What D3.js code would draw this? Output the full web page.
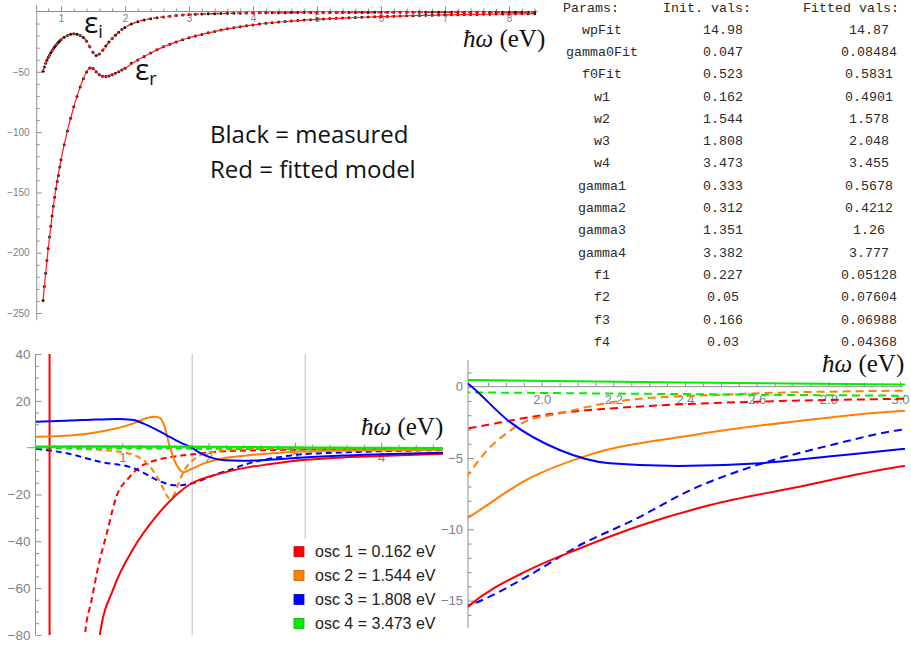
<!DOCTYPE html>
<html>
<head>
<meta charset="utf-8">
<script src="https://cdn.jsdelivr.net/npm/d3@7"></script>
<style>
  body { margin: 0; background: #fff; }
  svg { display: block; }
</style>
</head>
<body>
<svg id="fig" width="911" height="645"></svg>
<script>
// ---------- measured dielectric function (photon energy in eV) ----------
const measEnergy = [
  0.72,0.74,0.76,0.78,0.80,0.82,0.84,0.86,0.88,0.90,0.92,0.94,0.96,0.98,1.00,
  1.05,1.10,1.15,1.20,1.25,1.30,1.35,1.40,1.45,1.50,1.55,1.60,1.65,1.70,1.75,1.80,1.85,1.90,1.95,2.00,
  2.1,2.2,2.3,2.4,2.5,2.6,2.7,2.8,2.9,3.0,3.1,3.2,3.3,3.4,3.5,3.6,3.7,3.8,3.9,4.0,
  4.1,4.2,4.3,4.4,4.5,4.6,4.7,4.8,4.9,5.0,5.1,5.2,5.3,5.4,5.5,5.6,5.7,5.8,5.9,6.0,
  6.1,6.2,6.3,6.4,6.5,6.6,6.7,6.8,6.9,7.0,7.1,7.2,7.3,7.4,7.5,7.6,7.7,7.8,7.9,8.0,8.1,8.2,8.3,8.4
];
const epsIMeasured = [
  -49.5,-46.0,-43.0,-40.5,-38.2,-36.2,-34.3,-32.5,-30.9,-29.4,-28.0,-26.7,-25.5,-24.4,-23.4,
  -21.3,-19.8,-18.9,-18.5,-18.8,-19.8,-21.6,-24.6,-29.2,-33.8,-36.4,-35.3,-32.2,-28.6,-25.2,-22.3,-19.6,-17.2,-15.0,-13.2,
  -10.4,-8.4,-7.1,-6.0,-5.2,-4.5,-3.9,-3.4,-2.9,-2.5,-2.3,-2.1,-1.9,-1.8,-1.7,-1.55,-1.45,-1.35,-1.25,-1.15,
  -1.1,-1.05,-1.0,-0.98,-0.95,-0.92,-0.9,-0.88,-0.86,-0.84,-0.82,-0.8,-0.78,-0.77,-0.76,-0.75,-0.74,-0.73,-0.72,-0.71,
  -0.7,-0.69,-0.68,-0.67,-0.66,-0.65,-0.64,-0.63,-0.62,-0.61,-0.6,-0.6,-0.59,-0.59,-0.58,-0.58,-0.57,-0.57,-0.56,-0.56,-0.55,-0.55,-0.54,-0.54
];
const epsRMeasured = [
  -239.6,-228.0,-217.0,-206.5,-196.5,-187.0,-178.0,-169.5,-161.5,-154.0,-147.0,-141.0,-136.0,-129.0,-123.0,
  -110.5,-99.0,-88.5,-79.0,-70.5,-62.5,-55.8,-50.2,-46.8,-47.2,-50.0,-52.4,-53.6,-53.9,-53.4,-52.4,-51.2,-49.9,-48.5,-47.1,
  -43.0,-40.2,-37.3,-34.4,-31.7,-29.3,-27.1,-25.2,-23.4,-21.8,-20.3,-19.0,-17.7,-16.5,-15.4,-14.4,-13.5,-12.6,-11.8,-11.1,
  -10.4,-9.8,-9.3,-8.8,-8.3,-7.9,-7.5,-7.1,-6.8,-6.5,-6.2,-5.9,-5.7,-5.4,-5.2,-5.0,-4.8,-4.6,-4.4,-4.2,
  -4.05,-3.9,-3.75,-3.6,-3.45,-3.3,-3.2,-3.1,-2.95,-2.85,-2.75,-2.65,-2.55,-2.45,-2.4,-2.3,-2.25,-2.15,-2.1,-2.0,-1.95,-1.9,-1.85,-1.8
];

// ---------- fitted model ----------
const fitEnergy = [0.72,0.75,0.8,0.85,0.9,0.95,1.0,1.1,1.2,1.3,1.4,1.45,1.5,1.55,1.6,1.65,1.7,1.8,1.9,2.0,
  2.2,2.4,2.6,2.8,3.0,3.3,3.6,4.0,4.5,5.0,5.5,6.0,6.5,7.0,7.5,8.0,8.4];
const epsIFitted = [-49.3,-44.4,-38.2,-33.4,-29.4,-26.1,-23.4,-19.8,-18.5,-19.8,-24.6,-29.2,-33.8,-36.4,-35.3,-32.2,-28.6,-22.3,-17.2,-13.2,
  -8.4,-6.0,-4.5,-3.4,-2.5,-1.9,-1.55,-1.15,-0.95,-0.84,-0.76,-0.71,-0.66,-0.61,-0.58,-0.56,-0.54];
const epsRFitted = [-239.0,-222.5,-196.5,-173.7,-154.0,-137.5,-123.0,-99.0,-79.0,-62.5,-50.2,-46.8,-47.2,-50.0,-52.4,-53.6,-53.9,-52.4,-49.9,-47.1,
  -40.2,-34.4,-29.3,-25.2,-21.8,-17.7,-14.4,-11.1,-8.3,-6.5,-5.2,-4.2,-3.45,-2.85,-2.4,-2.0,-1.8];

// ---------- fit parameter table ----------
const paramNames = ["wpFit","gamma0Fit","f0Fit","w1","w2","w3","w4","gamma1","gamma2","gamma3","gamma4","f1","f2","f3","f4"];
const initVals   = ["14.98","0.047","0.523","0.162","1.544","1.808","3.473","0.333","0.312","1.351","3.382","0.227","0.05","0.166","0.03"];
const fittedVals = ["14.87","0.08484","0.5831","0.4901","1.578","2.048","3.455","0.5678","0.4212","1.26","3.777","0.05128","0.07604","0.06988","0.04368"];
const tableHeaders = ["Params:", "Init. vals:", "Fitted vals:"];

// ---------- individual oscillator contributions (Re solid, Im dashed) ----------
const oscNames = ["osc 1", "osc 2", "osc 3", "osc 4"];
const oscEnergies = ["0.162", "1.544", "1.808", "3.473"];

const osc1ReE = [0.0, 0.15, 0.156, 0.158, 0.4, 0.74, 0.9, 1.13, 1.39, 1.66, 1.8, 1.96, 2.1, 2.28, 2.47, 2.7, 3.0, 3.5, 4.0, 4.72];
const osc1ReV = [50, 400, 3000, -3000, -300, -80, -60, -43, -29.5, -19.0, -15.3, -12.9, -11.4, -9.7, -8.3, -7.1, -5.6, -4.3, -3.6, -2.6];
const osc1ImE = [0.45, 0.568, 0.645, 0.72, 0.82, 0.935, 1.07, 1.2, 1.36, 1.5, 1.65, 1.8, 2.0, 2.3, 2.6, 3.0, 3.5, 4.0, 4.72];
const osc1ImV = [-160, -80, -65, -51, -36.6, -20.5, -13.1, -8.3, -5.7, -4.4, -3.5, -2.9, -2.0, -1.35, -1.05, -0.85, -0.65, -0.5, -0.4];

const osc2ReE = [0.0, 0.4, 0.74, 1.13, 1.28, 1.38, 1.44, 1.49, 1.55, 1.63, 1.71, 1.8, 1.96, 2.13, 2.42, 2.7, 3.0, 3.5, 4.0, 4.72];
const osc2ReV = [4.7, 5.2, 6.8, 10.4, 12.6, 13.2, 12.6, 9.0, 0.4, -7.4, -10.5, -9.1, -6.5, -4.8, -3.4, -2.45, -1.7, -1.3, -1.1, -0.9];
const osc2ImE = [0.0, 0.5, 0.97, 1.24, 1.39, 1.45, 1.5, 1.55, 1.6, 1.65, 1.7, 1.75, 1.8, 1.85, 1.9, 1.95, 2.05, 2.24, 2.52, 3.0, 3.5, 4.0, 4.72];
const osc2ImV = [-0.1, -0.5, -1.7, -5.2, -11.7, -15.5, -19.5, -21.8, -20.0, -15.5, -11.0, -8.0, -6.0, -4.4, -3.3, -2.5, -1.87, -0.93, -0.54, -0.28, -0.2, -0.15, -0.1];

const osc3ReE = [0.0, 0.55, 0.94, 1.13, 1.24, 1.4, 1.51, 1.67, 1.8, 1.91, 2.05, 2.19, 2.38, 2.61, 2.8, 3.0, 3.5, 4.0, 4.72];
const osc3ReV = [11.1, 11.8, 12.3, 11.8, 10.4, 7.6, 5.4, 2.3, 0.1, -2.45, -4.44, -5.37, -5.56, -5.37, -4.9, -4.39, -3.4, -2.8, -2.2];
const osc3ImE = [0.0, 0.356, 0.74, 1.13, 1.27, 1.4, 1.63, 1.8, 1.96, 2.1, 2.26, 2.42, 2.61, 2.8, 3.0, 3.5, 4.0, 4.72];
const osc3ImV = [-0.4, -2.4, -6.0, -8.8, -11.2, -13.8, -16.1, -15.3, -13.3, -11.2, -9.3, -7.2, -5.42, -4.14, -3.03, -2.1, -1.5, -1.0];

const osc4ReE = [0.0, 1.0, 1.8, 2.4, 3.0, 3.5, 4.0, 4.72];
const osc4ReV = [0.55, 0.6, 0.47, 0.3, 0.15, 0.05, -0.02, -0.08];
const osc4ImE = [0.0, 0.5, 1.0, 1.8, 2.4, 3.0, 3.5, 4.0, 4.72];
const osc4ImV = [-0.05, -0.15, -0.25, -0.4, -0.52, -0.63, -0.68, -0.7, -0.7];

// marks the energy window shown enlarged on the right
const zoomWindow = [1.81, 3.12];

// ---------- tick labels ----------
const topTicksX = [1, 2, 3, 4, 5, 6, 7, 8];
const topTicksY = [-50, -100, -150, -200, -250];
const oscTicksX = [1, 2, 3, 4];
const oscTicksY = [40, 20, -20, -40, -60, -80];
const zoomTicksX = [2.0, 2.2, 2.4, 2.6, 2.8, 3.0];
const zoomTicksY = [0, -5, -10, -15];

// ---------- styles ----------
const oscColors = ["#ff0000", "#ff8000", "#0000ff", "#00ee00"];
const AXIS = "#8f8f8f";
const LABEL = "#7c7f88";
const SERIF = "'Liberation Serif', 'DejaVu Serif', serif";
const SANS = "'Liberation Sans', Arial, sans-serif";
const intFmt = d3.format("d");
const negFmt = d3.format("d");

const svg = d3.select("#fig");
const defs = svg.append("defs");

function ticks(parent, axis, tx, ty) {
  const g = parent.append("g").attr("transform", `translate(${tx},${ty})`).call(axis);
  g.select(".domain").remove();
  g.selectAll(".tick line").attr("stroke", AXIS).attr("stroke-width", 1);
  g.selectAll(".tick text").attr("fill", LABEL);
  return g;
}
function pairs(xs, ys) { return d3.zip(xs, ys); }

// =====================================================================
// Top: measured vs fitted dielectric function
// =====================================================================
const xA = d3.scaleLinear().domain([0, 8]).range([-3, 509]);
const yA = d3.scaleLinear().domain([0, -250]).range([11.5, 313]);
const gA = svg.append("g");
const axA0 = xA(0.62);

gA.append("line").attr("x1", axA0).attr("x2", xA(8.45)).attr("y1", yA(0)).attr("y2", yA(0))
  .attr("stroke", AXIS);
gA.append("line").attr("x1", axA0).attr("x2", axA0).attr("y1", 5).attr("y2", yA(-256))
  .attr("stroke", AXIS);

const topMinorX = d3.range(0.8, 8.45, 0.2).filter(v => Math.abs(v - Math.round(v)) > 0.01);
ticks(gA, d3.axisTop(xA).tickValues(topMinorX).tickSize(3).tickFormat(""), 0, yA(0));
ticks(gA, d3.axisTop(xA).tickValues(topTicksX).tickSize(5).tickFormat(""), 0, yA(0));
ticks(gA, d3.axisBottom(xA).tickValues(topTicksX).tickSize(0).tickPadding(3).tickFormat(intFmt), 0, yA(0))
  .selectAll("text").attr("font-family", SANS).attr("font-size", 10);

const topMinorY = d3.range(-10, -255, -10).filter(v => v % 50 !== 0);
ticks(gA, d3.axisLeft(yA).tickValues(topMinorY).tickSize(-3).tickFormat(""), axA0, 0);
ticks(gA, d3.axisLeft(yA).tickValues(topTicksY).tickSize(-5).tickPadding(7).tickFormat(negFmt), axA0, 0)
  .selectAll("text").attr("font-family", SANS).attr("font-size", 10);

// measured points
const measDots = gA.append("g").attr("fill", "#111");
[epsIMeasured, epsRMeasured].forEach(vals => {
  measDots.selectAll(null).data(pairs(measEnergy, vals)).join("circle")
    .attr("cx", d => xA(d[0])).attr("cy", d => yA(d[1])).attr("r", 1.5);
});
// fitted model curves
const lineA = d3.line().x(d => xA(d[0])).y(d => yA(d[1])).curve(d3.curveMonotoneX);
gA.append("path").datum(pairs(fitEnergy, epsRFitted)).attr("d", lineA)
  .attr("fill", "none").attr("stroke", "#ff1a1a").attr("stroke-width", 1.2);
gA.append("path").datum(pairs(fitEnergy, epsIFitted)).attr("d", lineA)
  .attr("fill", "none").attr("stroke", "#ff1a1a").attr("stroke-width", 1.6)
  .attr("stroke-dasharray", "4,3");

// curve labels
const epsI = gA.append("text").attr("x", 84).attr("y", 33).attr("font-family", "'Open Sans', sans-serif")
  .attr("font-size", 30).attr("fill", "#111");
epsI.append("tspan").text("ε");
epsI.append("tspan").attr("font-size", 18).attr("dy", 5).text("i");
const epsR = gA.append("text").attr("x", 135).attr("y", 80).attr("font-family", "'Open Sans', sans-serif")
  .attr("font-size", 30).attr("fill", "#111");
epsR.append("tspan").text("ε");
epsR.append("tspan").attr("font-size", 18).attr("dy", 5).text("r");

function energyLabel(parent, x, y) {
  const t = parent.append("text").attr("x", x).attr("y", y).attr("font-family", SERIF)
    .attr("font-size", 25).attr("fill", "#111");
  t.append("tspan").attr("font-style", "italic").text("ħω");
  t.append("tspan").text(" (eV)");
}
energyLabel(gA, 463, 47);

gA.append("text").attr("x", 210).attr("y", 143).attr("font-family", "'Open Sans', sans-serif")
  .attr("font-size", 24).attr("fill", "#111").text("Black = measured");
gA.append("text").attr("x", 210).attr("y", 178).attr("font-family", "'Open Sans', sans-serif")
  .attr("font-size", 24).attr("fill", "#111").text("Red = fitted model");

// =====================================================================
// Parameter table
// =====================================================================
const gT = svg.append("g").attr("font-family", "'Liberation Mono', 'DejaVu Sans Mono', monospace")
  .attr("font-size", 13.3).attr("fill", "#2a2a2a").attr("text-anchor", "middle");
const headerX = [591, 707, 851];
const colX = [602, 723, 869];
tableHeaders.forEach((h, i) => {
  gT.append("text").attr("x", headerX[i]).attr("y", 7).attr("dy", "0.35em").text(h);
});
paramNames.forEach((p, i) => {
  const y = 29 + i * 22.3;
  [p, initVals[i], fittedVals[i]].forEach((s, j) => {
    gT.append("text").attr("x", colX[j]).attr("y", y).attr("dy", "0.35em").text(s);
  });
});

// =====================================================================
// Bottom left: oscillator contributions
// =====================================================================
const xB = d3.scaleLinear().domain([0, 4]).range([36, 381.2]);
const yB = d3.scaleLinear().domain([40, -80]).range([354.1, 634.9]);
const gB = svg.append("g");
defs.append("clipPath").attr("id", "clipB").append("rect")
  .attr("x", 36).attr("y", 354).attr("width", 407).attr("height", 281);

zoomWindow.forEach(e => {
  gB.append("line").attr("x1", xB(e)).attr("x2", xB(e)).attr("y1", yB(40)).attr("y2", yB(-80))
    .attr("stroke", "#c8c8c8").attr("stroke-width", 1.2);
});

gB.append("line").attr("x1", 27).attr("x2", 443).attr("y1", yB(0)).attr("y2", yB(0)).attr("stroke", AXIS);
gB.append("line").attr("x1", 35.5).attr("x2", 35.5).attr("y1", yB(40)).attr("y2", yB(-80)).attr("stroke", AXIS);

const oscMinorX = d3.range(0.2, 4.72, 0.2).filter(v => Math.abs(v - Math.round(v)) > 0.01);
ticks(gB, d3.axisTop(xB).tickValues(oscMinorX).tickSize(3).tickFormat(""), 0, yB(0));
ticks(gB, d3.axisTop(xB).tickValues(oscTicksX).tickSize(5).tickFormat(""), 0, yB(0));
ticks(gB, d3.axisBottom(xB).tickValues(oscTicksX).tickSize(0).tickPadding(5).tickFormat(intFmt), 0, yB(0))
  .selectAll("text").attr("font-family", SANS).attr("font-size", 13);

const oscMinorY = d3.range(35, -81, -5).filter(v => v % 20 !== 0);
ticks(gB, d3.axisLeft(yB).tickValues(oscMinorY).tickSize(-3.5).tickFormat(""), 35.5, 0);
ticks(gB, d3.axisLeft(yB).tickValues(oscTicksY).tickSize(-6).tickPadding(5).tickFormat(negFmt), 35.5, 0)
  .selectAll("text").attr("font-family", SANS).attr("font-size", 13.5);

const oscSeries = [
  { e: osc1ImE, v: osc1ImV, c: 0, dash: true },
  { e: osc2ImE, v: osc2ImV, c: 1, dash: true },
  { e: osc3ImE, v: osc3ImV, c: 2, dash: true },
  { e: osc4ImE, v: osc4ImV, c: 3, dash: true },
  { e: osc1ReE, v: osc1ReV, c: 0, dash: false },
  { e: osc2ReE, v: osc2ReV, c: 1, dash: false },
  { e: osc3ReE, v: osc3ReV, c: 2, dash: false },
  { e: osc4ReE, v: osc4ReV, c: 3, dash: false }
];

const plotB = gB.append("g").attr("clip-path", "url(#clipB)");
const lineB = d3.line().x(d => xB(d[0])).y(d => yB(d[1])).curve(d3.curveMonotoneX);
oscSeries.forEach(s => {
  plotB.append("path").datum(pairs(s.e, s.v)).attr("d", lineB)
    .attr("fill", "none").attr("stroke", oscColors[s.c]).attr("stroke-width", 2)
    .attr("stroke-dasharray", s.dash ? "6,4" : null);
});

energyLabel(gB, 361, 435);

// legend
const gL = gB.append("g");
gL.append("rect").attr("x", 289).attr("y", 539).attr("width", 152).attr("height", 96).attr("fill", "#fff");
oscNames.forEach((n, i) => {
  const cy = 551.7 + i * 23.9;
  gL.append("rect").attr("x", 294).attr("y", cy - 5).attr("width", 10).attr("height", 10)
    .attr("fill", oscColors[i]).attr("stroke", d3.color(oscColors[i]).darker(0.8)).attr("stroke-width", 0.8);
  gL.append("text").attr("x", 315).attr("y", cy + 5.6).attr("font-family", SANS)
    .attr("font-size", 16).attr("fill", "#222").text(`${n} = ${oscEnergies[i]} eV`);
});

// =====================================================================
// Bottom right: enlarged window 1.8 – 3.0 eV
// =====================================================================
const xC = d3.scaleLinear().domain([2.0, 3.0]).range([541.7, 900]);
const yC = d3.scaleLinear().domain([0, -15]).range([386.7, 600.6]);
const gC = svg.append("g");
defs.append("clipPath").attr("id", "clipC").append("rect")
  .attr("x", 468).attr("y", 358).attr("width", 437).attr("height", 272);

gC.append("line").attr("x1", 468).attr("x2", 903).attr("y1", yC(0)).attr("y2", yC(0)).attr("stroke", AXIS);
gC.append("line").attr("x1", 468).attr("x2", 468).attr("y1", 360).attr("y2", 628).attr("stroke", AXIS);

const zoomMinorX = d3.range(1.85, 3.01, 0.05).filter(v => Math.abs(v * 5 - Math.round(v * 5)) > 0.01);
ticks(gC, d3.axisTop(xC).tickValues(zoomMinorX).tickSize(4).tickFormat(""), 0, yC(0));
ticks(gC, d3.axisTop(xC).tickValues(zoomTicksX).tickSize(5).tickFormat(""), 0, yC(0));
ticks(gC, d3.axisBottom(xC).tickValues(zoomTicksX).tickSize(0).tickPadding(8).tickFormat(d3.format(".1f")), 0, yC(0))
  .selectAll("text").attr("font-family", SANS).attr("font-size", 13);

const zoomMinorY = d3.range(1, -17, -1).filter(v => v % 5 !== 0);
ticks(gC, d3.axisLeft(yC).tickValues(zoomMinorY).tickSize(-3.5).tickFormat(""), 468, 0);
ticks(gC, d3.axisLeft(yC).tickValues(zoomTicksY).tickSize(-6).tickPadding(5).tickFormat(negFmt), 468, 0)
  .selectAll("text").attr("font-family", SANS).attr("font-size", 13);

const plotC = gC.append("g").attr("clip-path", "url(#clipC)");
const lineC = d3.line().x(d => xC(d[0])).y(d => yC(d[1])).curve(d3.curveMonotoneX);
oscSeries.forEach(s => {
  plotC.append("path").datum(pairs(s.e, s.v)).attr("d", lineC)
    .attr("fill", "none").attr("stroke", oscColors[s.c]).attr("stroke-width", 2)
    .attr("stroke-dasharray", s.dash ? "8,5" : null);
});

energyLabel(gC, 822, 372);
</script>
</body>
</html>
